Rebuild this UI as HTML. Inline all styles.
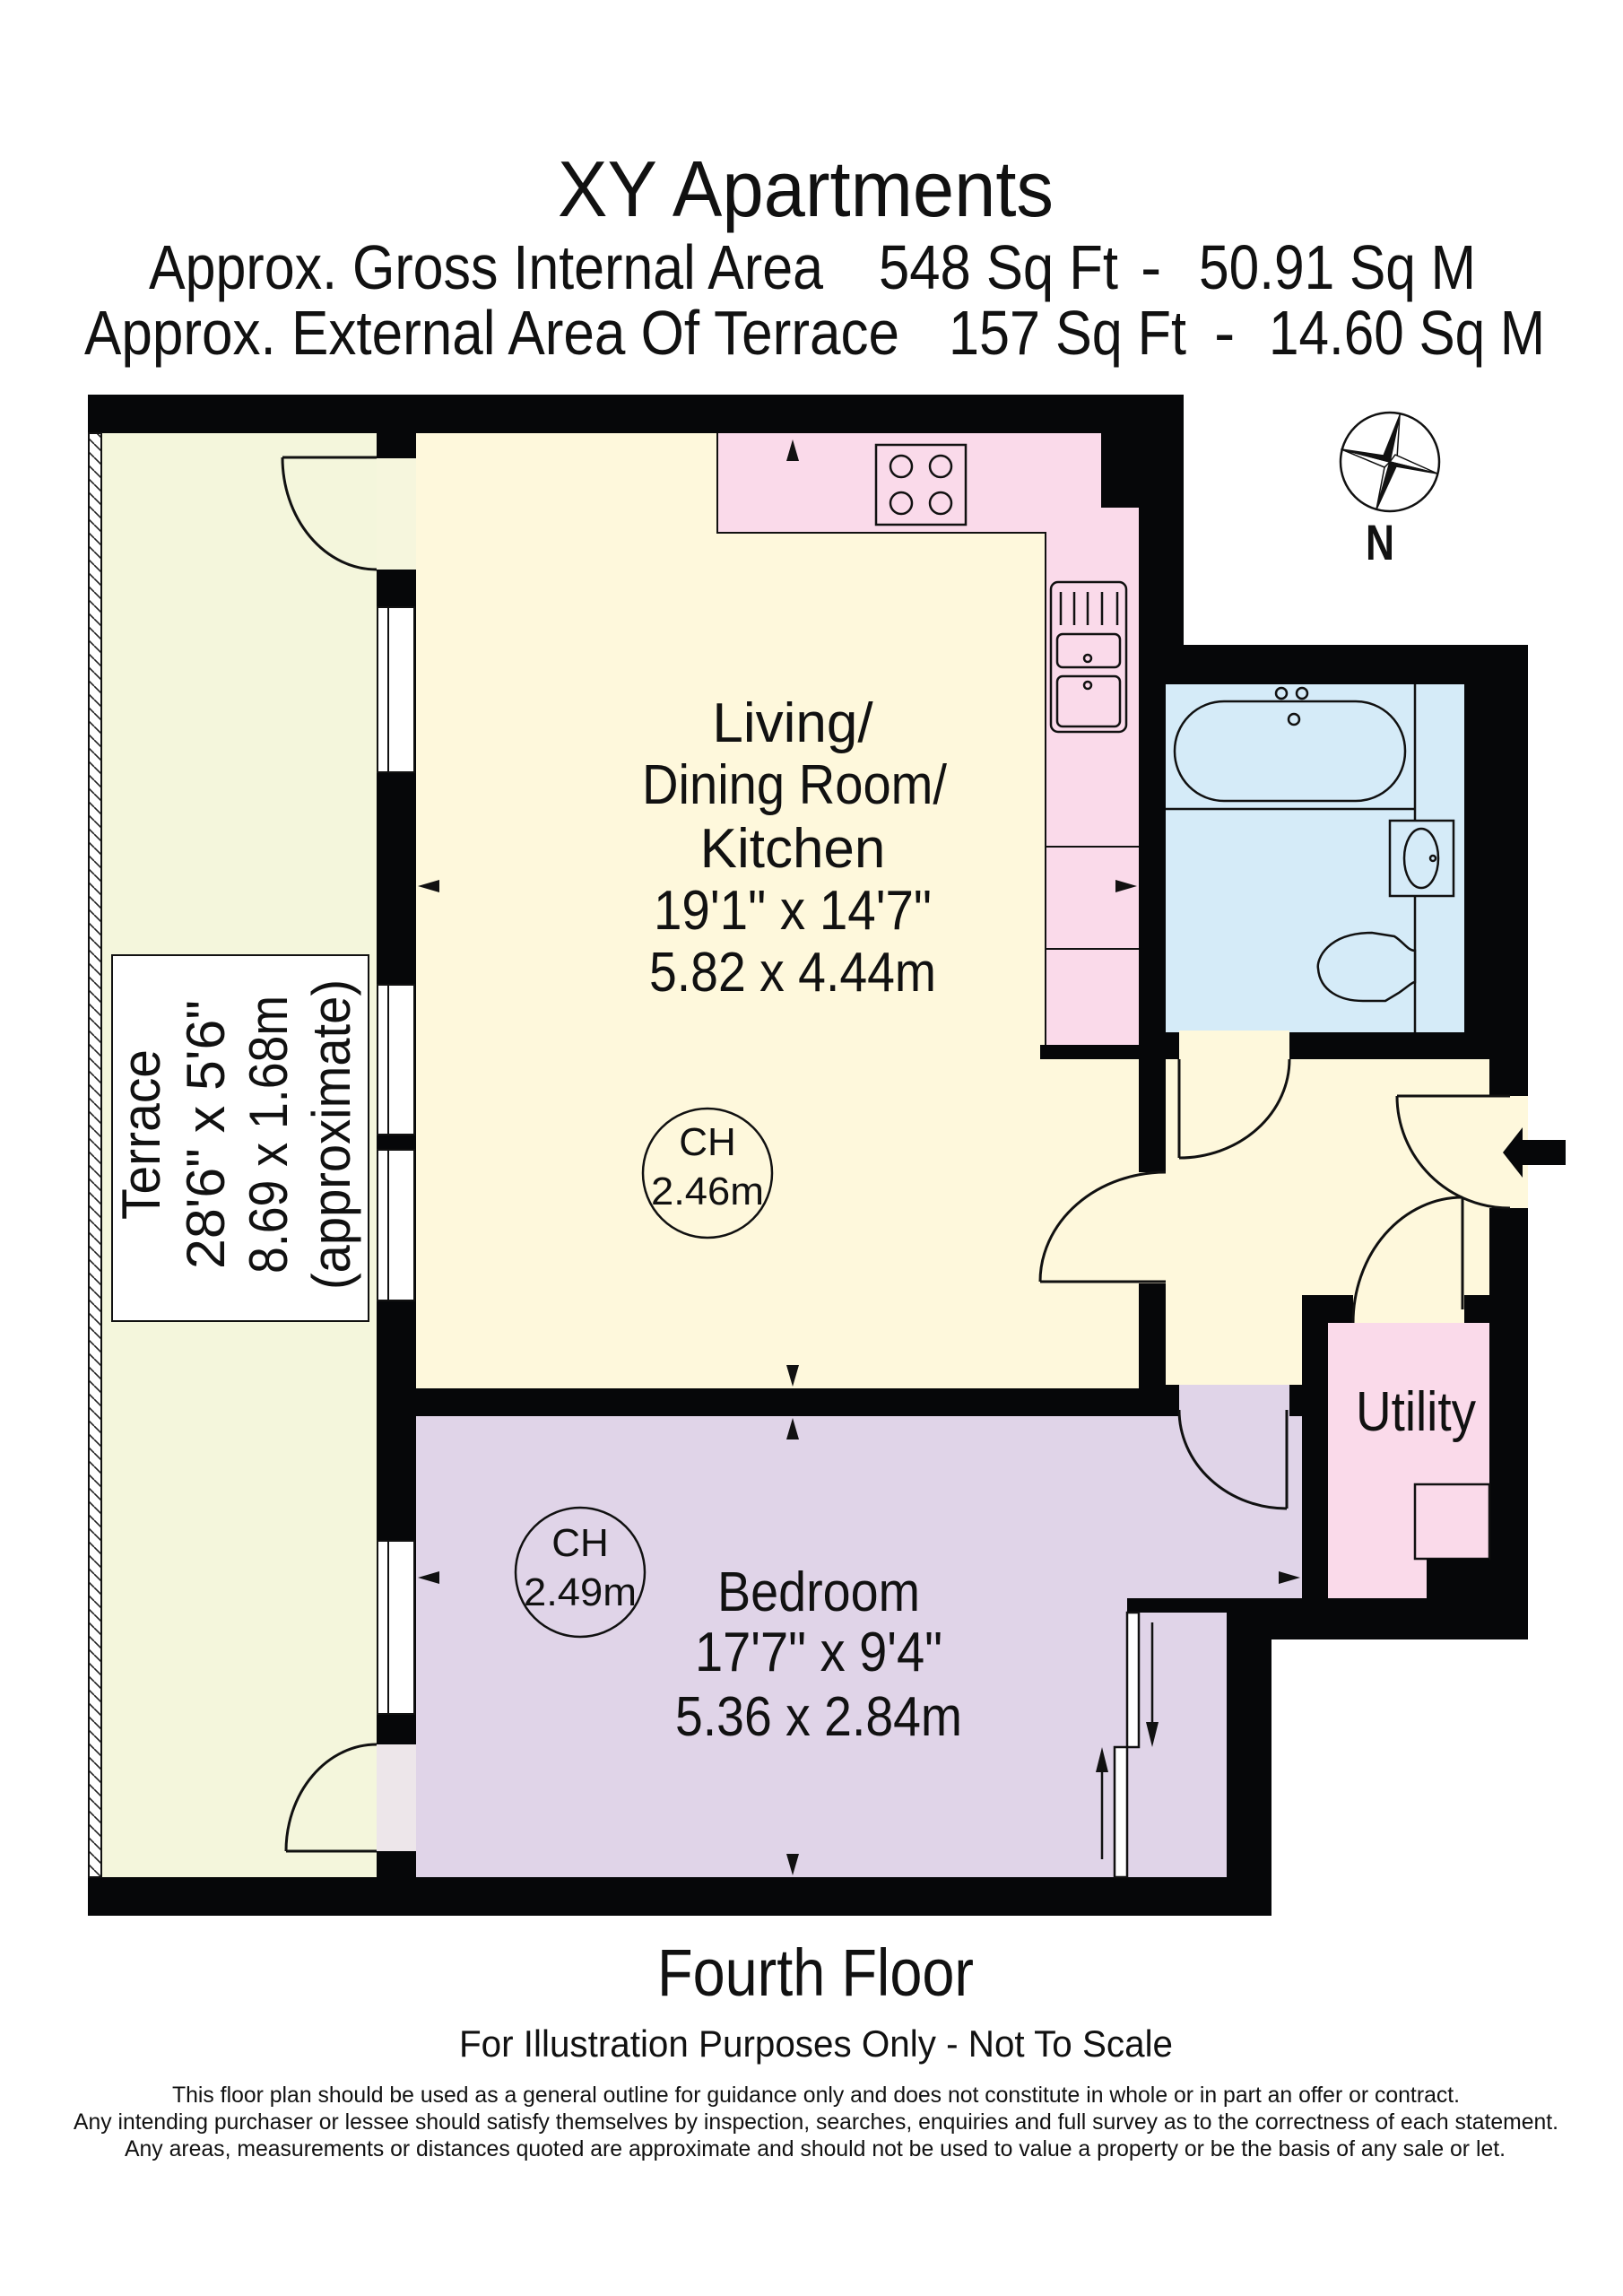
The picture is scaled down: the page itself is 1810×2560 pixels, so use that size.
<!DOCTYPE html>
<html><head><meta charset="utf-8"><style>
html,body{margin:0;padding:0;background:#fff;}
svg{display:block;}
text{font-family:"Liberation Sans",sans-serif;fill:#111;}
</style></head><body>
<svg width="1810" height="2560" viewBox="0 0 1810 2560" xmlns="http://www.w3.org/2000/svg">
<defs>
<pattern id="hatch" width="15" height="15" patternUnits="userSpaceOnUse">
<rect width="15" height="15" fill="#fff"/>
<path d="M0,0 L15,15 M-15,0 L0,15 M0,-15 L15,0" stroke="#222" stroke-width="1.6"/>
</pattern>
</defs>

<text x="622" y="241" font-size="88" textLength="553" lengthAdjust="spacingAndGlyphs">XY Apartments</text>
<text x="166" y="322" font-size="70" textLength="752" lengthAdjust="spacingAndGlyphs">Approx. Gross Internal Area</text>
<text x="980" y="322" font-size="70" textLength="267" lengthAdjust="spacingAndGlyphs">548 Sq Ft</text>
<text x="1272" y="322" font-size="70">-</text>
<text x="1337" y="322" font-size="70" textLength="309" lengthAdjust="spacingAndGlyphs">50.91 Sq M</text>
<text x="94" y="395" font-size="70" textLength="909" lengthAdjust="spacingAndGlyphs">Approx. External Area Of Terrace</text>
<text x="1058" y="395" font-size="70" textLength="265" lengthAdjust="spacingAndGlyphs">157 Sq Ft</text>
<text x="1354" y="395" font-size="70">-</text>
<text x="1415" y="395" font-size="70" textLength="308" lengthAdjust="spacingAndGlyphs">14.60 Sq M</text>

<polygon points="98,440 1320,440 1320,719 1704,719 1704,1828 1418,1828 1418,2136 98,2136" fill="#060709"/>

<rect x="113" y="483" width="307" height="1610" fill="#F4F6DC"/>
<rect x="99" y="483" width="14" height="1610" fill="url(#hatch)" stroke="#111" stroke-width="2"/>
<rect x="420" y="511" width="44" height="124" fill="#F6F6DD"/>
<rect x="420" y="1945" width="44" height="119" fill="#EDE6EA"/>
<g fill="#fff" stroke="#111" stroke-width="2">
<rect x="421" y="677" width="41" height="184"/><line x1="433" y1="677" x2="433" y2="861"/>
<rect x="421" y="1098" width="41" height="167"/><line x1="433" y1="1098" x2="433" y2="1265"/>
<rect x="421" y="1282" width="41" height="168"/><line x1="433" y1="1282" x2="433" y2="1450"/>
<rect x="421" y="1718" width="41" height="193"/><line x1="433" y1="1718" x2="433" y2="1911"/>
</g>

<rect x="464" y="483" width="806" height="1065" fill="#FEF8DC"/>
<path d="M800,483 L1228,483 L1228,566 L1270,566 L1270,1165 L1166,1165 L1166,594 L800,594 Z" fill="#FADAEA"/>
<rect x="1228" y="483" width="48" height="83" fill="#060709"/>
<path d="M800,483 L800,594 L1166,594 L1166,1165" fill="none" stroke="#111" stroke-width="2"/>
<rect x="1160" y="1165" width="110" height="16" fill="#060709"/>
<line x1="1166" y1="944" x2="1270" y2="944" stroke="#111" stroke-width="2"/>
<line x1="1166" y1="1058" x2="1270" y2="1058" stroke="#111" stroke-width="2"/>
<rect x="977" y="496" width="100" height="89" fill="none" stroke="#111" stroke-width="2.5"/>
<g fill="none" stroke="#111" stroke-width="2.5">
<circle cx="1005" cy="520" r="12"/><circle cx="1049" cy="520" r="12"/>
<circle cx="1005" cy="561" r="12"/><circle cx="1049" cy="561" r="12"/>
</g>
<g fill="none" stroke="#111" stroke-width="2.5">
<rect x="1172" y="649" width="84" height="167" rx="8"/>
<line x1="1183" y1="660" x2="1183" y2="697"/><line x1="1198" y1="660" x2="1198" y2="697"/>
<line x1="1213" y1="660" x2="1213" y2="697"/><line x1="1229" y1="660" x2="1229" y2="697"/>
<line x1="1246" y1="660" x2="1246" y2="697"/>
<rect x="1179" y="707" width="70" height="37" rx="6"/>
<rect x="1179" y="754" width="70" height="56" rx="6"/>
<circle cx="1213" cy="734" r="4"/><circle cx="1213" cy="764" r="4"/>
</g>

<rect x="1268" y="1307" width="34" height="124" fill="#FEF8DC"/>

<rect x="1300" y="763" width="333" height="388" fill="#D5EBF8"/>
<g fill="none" stroke="#111" stroke-width="2.5">
<line x1="1578" y1="763" x2="1578" y2="1151"/>
<line x1="1300" y1="902" x2="1578" y2="902"/>
<rect x="1310" y="782" width="257" height="111" rx="55"/>
<circle cx="1429" cy="773" r="6"/><circle cx="1452" cy="773" r="6"/><circle cx="1443" cy="802" r="6"/>
<rect x="1550" y="915" width="71" height="84" fill="#D5EBF8"/>
<ellipse cx="1585" cy="957" rx="19" ry="33"/>
<circle cx="1598" cy="957" r="3"/>
<path d="M1530,1040 C1480,1040 1468,1070 1470,1080 C1472,1105 1495,1116 1520,1116 L1545,1116 L1560,1107 C1570,1100 1575,1095 1578,1095 L1578,1060 C1570,1060 1565,1050 1555,1044 Z" fill="#D5EBF8"/>
</g>

<g fill="#FEF8DC">
<rect x="1300" y="1181" width="361" height="263"/>
<rect x="1300" y="1440" width="152" height="104"/>
<rect x="1509" y="1440" width="124" height="35"/>
<rect x="1315" y="1149" width="123" height="34"/>
<rect x="1659" y="1222" width="45" height="125"/>
</g>
<rect x="1270" y="1181" width="30" height="126" fill="#060709"/>
<rect x="1270" y="1431" width="30" height="113" fill="#060709"/>

<g fill="#E0D4E8">
<rect x="464" y="1579" width="988" height="203"/>
<rect x="464" y="1780" width="793" height="313"/>
<rect x="1257" y="1798" width="111" height="295"/>
<rect x="1315" y="1544" width="123" height="37"/>
</g>
<rect x="1481" y="1475" width="180" height="307" fill="#FADAEA"/>
<rect x="1578" y="1655" width="83" height="83" fill="#FADAEA" stroke="#111" stroke-width="2.5"/>
<rect x="1591" y="1738" width="70" height="46" fill="#060709"/>

<g fill="none" stroke="#111" stroke-width="3">
<line x1="315" y1="510" x2="420" y2="510"/>
<path d="M315,510 A105,125 0 0 0 420,635"/>
<line x1="319" y1="2064" x2="420" y2="2064"/>
<path d="M319,2064 A101,119 0 0 1 420,1945"/>
<line x1="1315" y1="1181" x2="1315" y2="1291"/>
<path d="M1315,1291 A123,110 0 0 0 1438,1181"/>
<line x1="1160" y1="1429" x2="1300" y2="1429"/>
<path d="M1160,1429 A140,122 0 0 1 1300,1307"/>
<line x1="1558" y1="1222" x2="1684" y2="1222"/>
<path d="M1558,1222 A126,125 0 0 0 1684,1347"/>
<line x1="1631" y1="1335" x2="1631" y2="1460"/>
<path d="M1509,1475 A122,140 0 0 1 1631,1335"/>
<line x1="1435" y1="1572" x2="1435" y2="1682"/>
<path d="M1315,1572 A120,110 0 0 0 1435,1682"/>
</g>
<rect x="1438" y="1544" width="14" height="28" fill="#060709"/>

<g stroke="#111" stroke-width="2.5">
<rect x="1257" y="1798" width="13" height="150" fill="#fff"/>
<rect x="1243" y="1948" width="14" height="145" fill="#fff"/>
<line x1="1285" y1="1809" x2="1285" y2="1925"/>
<line x1="1229" y1="2073" x2="1229" y2="1970"/>
</g>
<polygon points="1278,1920 1292,1920 1285,1948" fill="#111"/>
<polygon points="1222,1976 1236,1976 1229,1948" fill="#111"/>

<polygon points="1676,1285 1698,1257 1698,1271 1746,1271 1746,1299 1698,1299 1698,1313" fill="#060709"/>

<g fill="#111">
<polygon points="884,490 877,514 891,514"/>
<polygon points="466,988 490,981 490,995"/>
<polygon points="1268,988 1244,981 1244,995"/>
<polygon points="884,1546 877,1522 891,1522"/>
<polygon points="884,1581 877,1605 891,1605"/>
<polygon points="466,1759 490,1752 490,1766"/>
<polygon points="1450,1759 1426,1752 1426,1766"/>
<polygon points="884,2091 877,2067 891,2067"/>
</g>

<circle cx="1550" cy="515" r="55" fill="none" stroke="#111" stroke-width="2.5"/>
<g stroke="#111" stroke-width="1.5" stroke-linejoin="round">
<polygon points="1550,515 1561,463 1543,508" fill="#111"/>
<polygon points="1550,515 1561,463 1558,511" fill="#fff"/>
<polygon points="1550,515 1603,528 1556,507" fill="#fff"/>
<polygon points="1550,515 1603,528 1557,520" fill="#111"/>
<polygon points="1550,515 1535,568 1557,520" fill="#111"/>
<polygon points="1550,515 1535,568 1544,521" fill="#fff"/>
<polygon points="1550,515 1496,501 1544,521" fill="#fff"/>
<polygon points="1550,515 1496,501 1543,508" fill="#111"/>
</g>
<text x="1523" y="624" font-size="56" font-weight="bold" textLength="32" lengthAdjust="spacingAndGlyphs">N</text>

<g font-size="62" text-anchor="middle">
<text x="884" y="827">Living/</text>
<text x="886" y="896" textLength="340" lengthAdjust="spacingAndGlyphs">Dining Room/</text>
<text x="884" y="967">Kitchen</text>
<text x="884" y="1036" textLength="310" lengthAdjust="spacingAndGlyphs">19'1" x 14'7"</text>
<text x="884" y="1105" textLength="320" lengthAdjust="spacingAndGlyphs">5.82 x 4.44m</text>
<text x="913" y="1796" textLength="226" lengthAdjust="spacingAndGlyphs">Bedroom</text>
<text x="913" y="1863" textLength="276" lengthAdjust="spacingAndGlyphs">17'7" x 9'4"</text>
<text x="913" y="1935" textLength="320" lengthAdjust="spacingAndGlyphs">5.36 x 2.84m</text>
<text x="1579" y="1595" textLength="134" lengthAdjust="spacingAndGlyphs">Utility</text>
</g>

<circle cx="789" cy="1308" r="72" fill="none" stroke="#111" stroke-width="2.5"/>
<text x="789" y="1288" font-size="44" text-anchor="middle">CH</text>
<text x="789" y="1343" font-size="44" text-anchor="middle" textLength="126" lengthAdjust="spacingAndGlyphs">2.46m</text>
<circle cx="647" cy="1753" r="72" fill="none" stroke="#111" stroke-width="2.5"/>
<text x="647" y="1735" font-size="44" text-anchor="middle">CH</text>
<text x="647" y="1790" font-size="44" text-anchor="middle" textLength="126" lengthAdjust="spacingAndGlyphs">2.49m</text>

<rect x="125" y="1065" width="286" height="408" fill="#fff" stroke="#111" stroke-width="2"/>
<g font-size="60" text-anchor="middle">
<text transform="translate(178,1265) rotate(-90)" textLength="190" lengthAdjust="spacingAndGlyphs">Terrace</text>
<text transform="translate(250,1265) rotate(-90)" textLength="300" lengthAdjust="spacingAndGlyphs">28'6" x 5'6"</text>
<text transform="translate(320,1265) rotate(-90)" textLength="310" lengthAdjust="spacingAndGlyphs">8.69 x 1.68m</text>
<text transform="translate(390,1265) rotate(-90)" textLength="346" lengthAdjust="spacingAndGlyphs">(approximate)</text>
</g>

<text x="733" y="2225" font-size="74" textLength="353" lengthAdjust="spacingAndGlyphs">Fourth Floor</text>
<text x="512" y="2293" font-size="42" textLength="796" lengthAdjust="spacingAndGlyphs">For Illustration Purposes Only - Not To Scale</text>
<text x="192" y="2344" font-size="25" textLength="1436" lengthAdjust="spacingAndGlyphs">This floor plan should be used as a general outline for guidance only and does not constitute in whole or in part an offer or contract.</text>
<text x="82" y="2374" font-size="25" textLength="1656" lengthAdjust="spacingAndGlyphs">Any intending purchaser or lessee should satisfy themselves by inspection, searches, enquiries and full survey as to the correctness of each statement.</text>
<text x="139" y="2404" font-size="25" textLength="1540" lengthAdjust="spacingAndGlyphs">Any areas, measurements or distances quoted are approximate and should not be used to value a property or be the basis of any sale or let.</text>
</svg>
</body></html>
